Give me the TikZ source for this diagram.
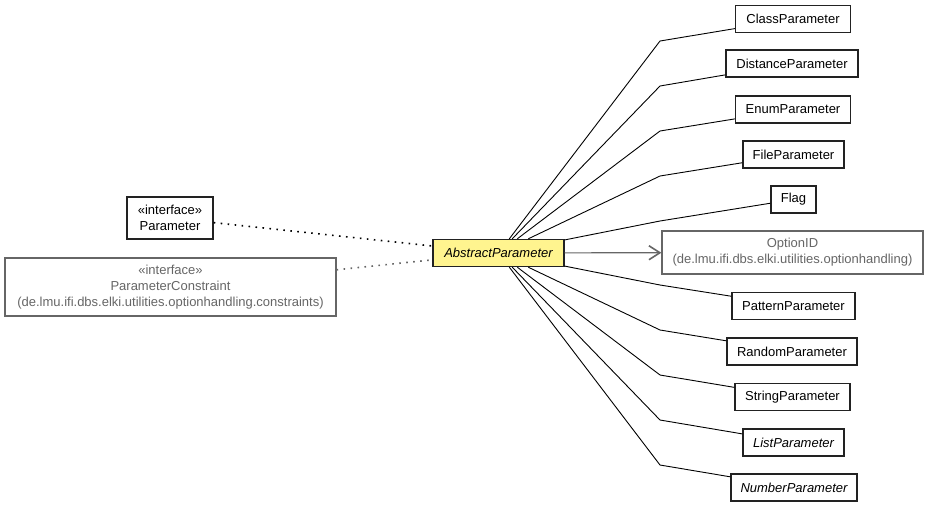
\documentclass[tikz,border=0pt]{standalone}
\usepackage{fontspec}
\setmainfont{Liberation Sans}
\usetikzlibrary{arrows.meta}
\definecolor{umlyellow}{HTML}{FFF48F}
\definecolor{umlgray}{HTML}{666666}
\definecolor{umlborder}{HTML}{222222}
\begin{document}
\begin{tikzpicture}[x=1pt,y=-1pt,
  every node/.style={font=\fontsize{13}{16}\selectfont, inner sep=0pt, align=center},
  cls/.style={draw=umlborder, line width=1.4pt, fill=white, minimum height=27pt},
  ext/.style={draw=umlgray, line width=1.2pt, fill=white, text=umlgray},
  abs/.style={cls, fill=umlyellow, font=\fontsize{13}{16}\selectfont\itshape},
  conn/.style={draw=black, line width=0.9pt},
  dep/.style={line width=1.6pt, dash pattern=on 1.6pt off 5.4pt},
  nav/.style={draw=umlgray, line width=1.2pt, -{Straight Barb[length=11pt,width=14pt,line width=1.6pt]}}
]
\useasboundingbox (0,0) rectangle (931,507);

\node[abs, minimum width=131pt] (abstract) at (498.5,253) {AbstractParameter};
\node[cls, minimum width=86pt, minimum height=42pt] (param) at (170,218) {«interface»\\Parameter};
\node[ext, minimum width=331pt, minimum height=58pt] (constr) at (170.5,287) {«interface»\\ParameterConstraint\\(de.lmu.ifi.dbs.elki.utilities.optionhandling.constraints)};
\node[ext, minimum width=261pt, minimum height=43pt] (option) at (792.5,252.5) {OptionID\\(de.lmu.ifi.dbs.elki.utilities.optionhandling)};

\node[cls, minimum width=115pt] (class) at (793,19) {ClassParameter};
\node[cls, minimum width=132pt] (distance) at (792,63.5) {DistanceParameter};
\node[cls, minimum width=115pt] (enum) at (793,109.5) {EnumParameter};
\node[cls, minimum width=101pt] (file) at (793.5,154.5) {FileParameter};
\node[cls, minimum width=45pt] (flag) at (793.5,199.5) {Flag};
\node[cls, minimum width=123pt] (pattern) at (793.5,306) {PatternParameter};
\node[cls, minimum width=130pt] (random) at (792,351.5) {RandomParameter};
\node[cls, minimum width=115pt] (string) at (792.5,397) {StringParameter};
\node[cls, minimum width=101pt, font=\fontsize{13}{16}\selectfont\itshape] (list) at (793.5,442.5) {ListParameter};
\node[cls, minimum width=126pt, font=\fontsize{13}{16}\selectfont\itshape] (number) at (794,487.5) {NumberParameter};

\coordinate (b1) at (660,41);
\coordinate (b2) at (660,86);
\coordinate (b3) at (660,131);
\coordinate (b4) at (660,176);
\coordinate (b5) at (660,221);
\coordinate (b6) at (660,285);
\coordinate (b7) at (660,330);
\coordinate (b8) at (660,375);
\coordinate (b9) at (660,420);
\coordinate (b10) at (660,465);

\draw[conn] (abstract) -- (b1) -- (class);
\draw[conn] (abstract) -- (b2) -- (distance);
\draw[conn] (abstract) -- (b3) -- (enum);
\draw[conn] (abstract) -- (b4) -- (file);
\draw[conn] (abstract) -- (b5) -- (flag);
\draw[conn] (abstract) -- (b6) -- (pattern);
\draw[conn] (abstract) -- (b7) -- (random);
\draw[conn] (abstract) -- (b8) -- (string);
\draw[conn] (abstract) -- (b9) -- (list);
\draw[conn] (abstract) -- (b10) -- (number);

\draw[nav] (abstract) -- (option);
\draw[dep, draw=black] (param) -- (abstract);
\draw[dep, draw=umlgray] (constr) -- (abstract);
\end{tikzpicture}
\end{document}
